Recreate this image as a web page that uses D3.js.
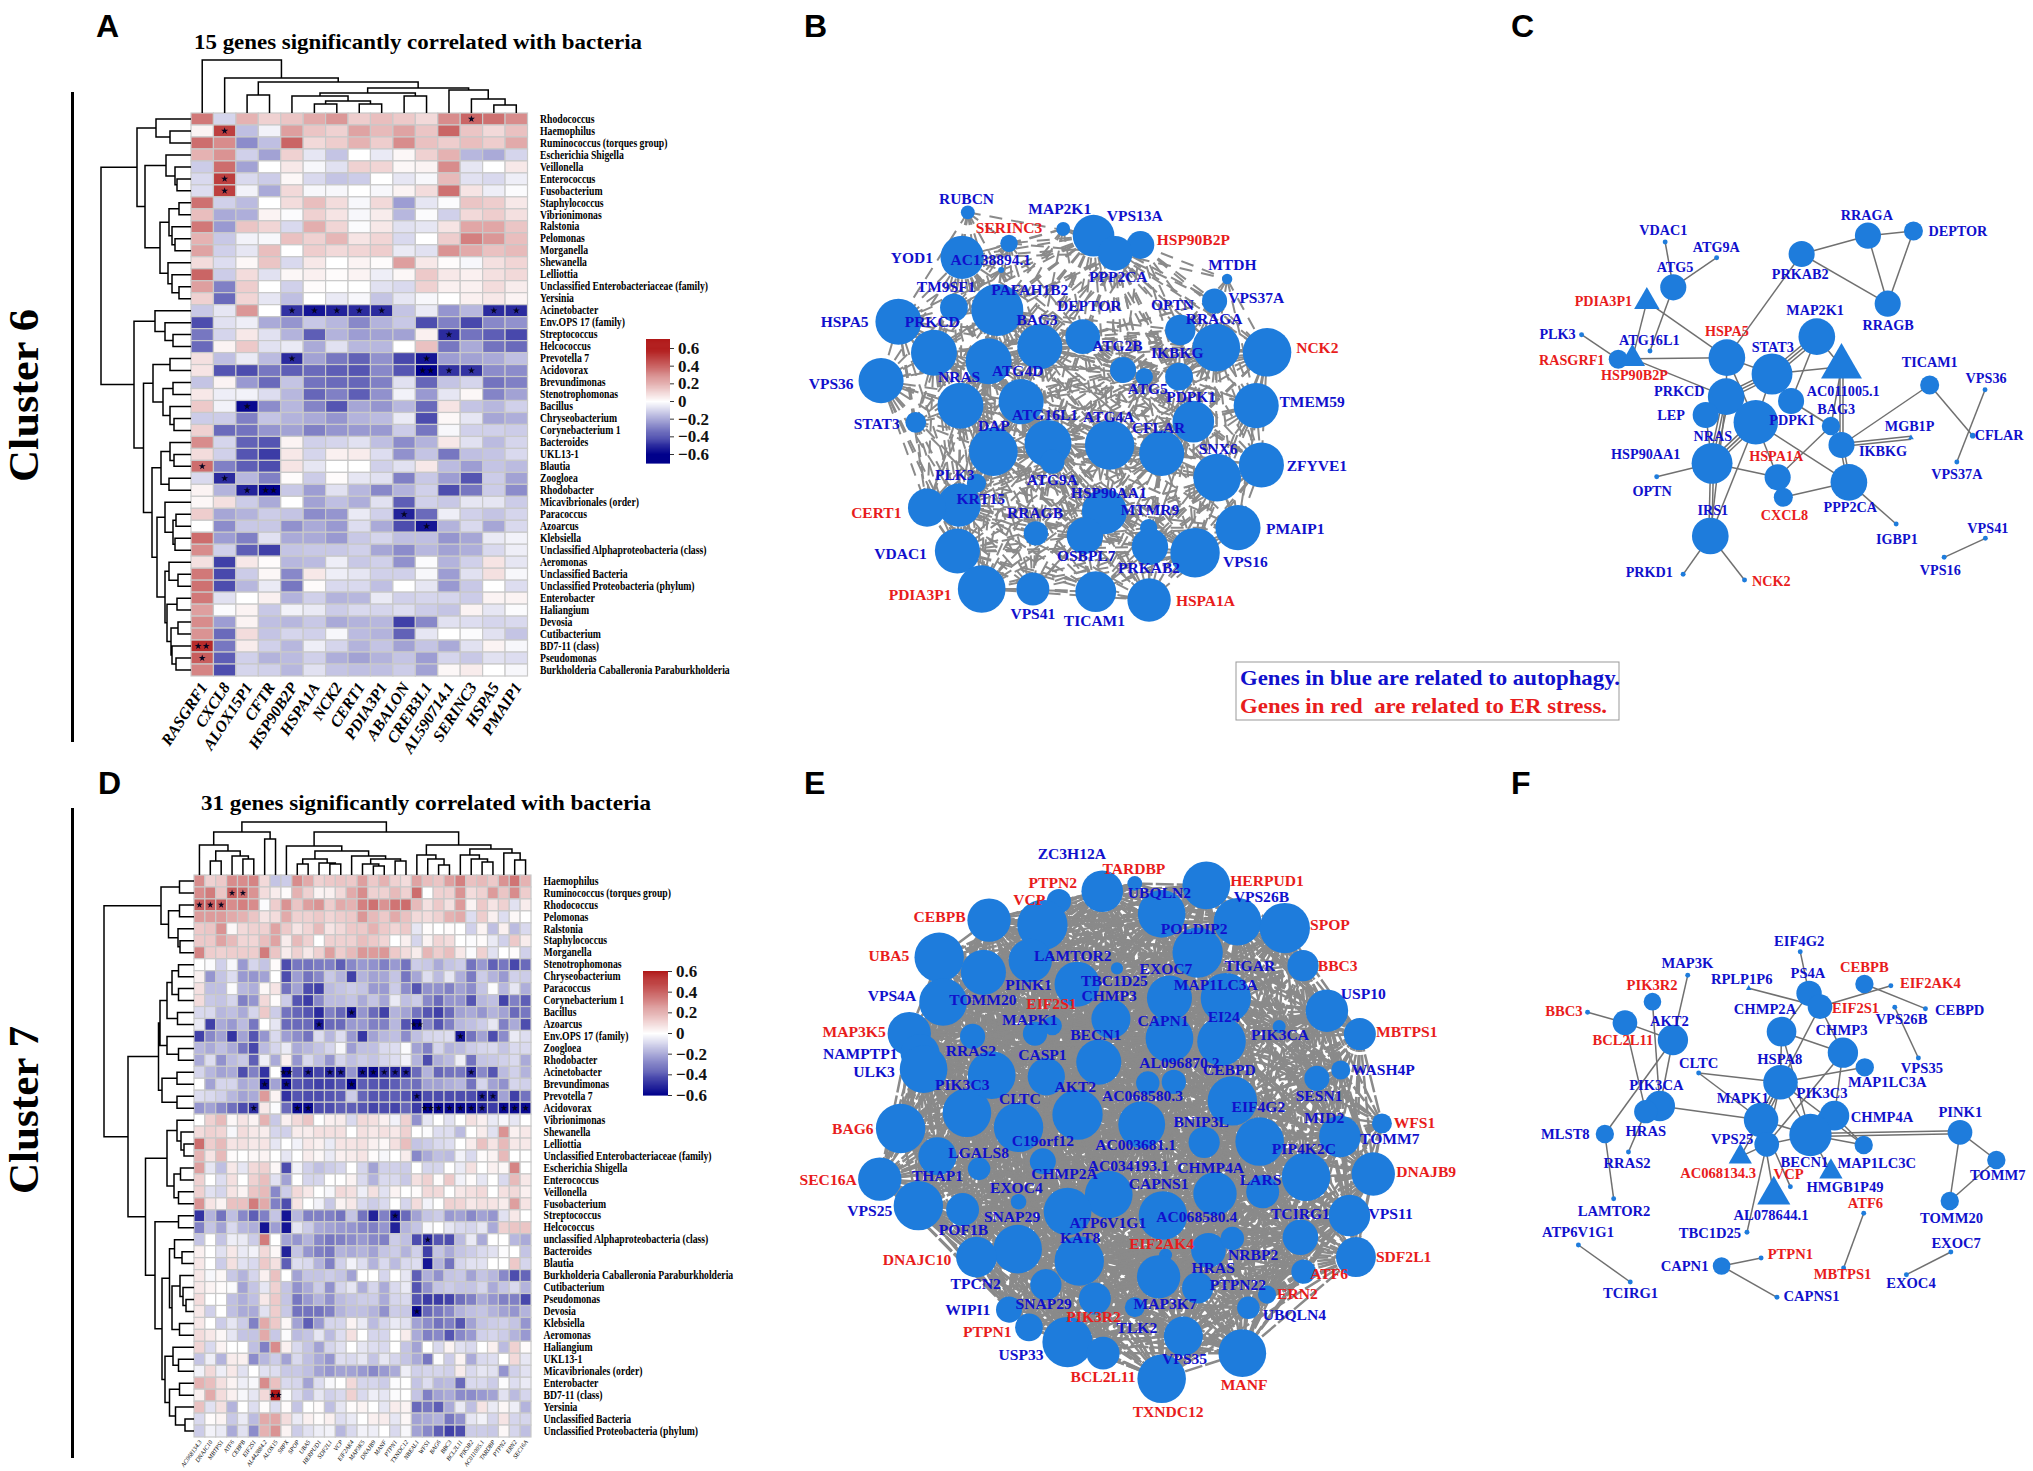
<!DOCTYPE html>
<html><head><meta charset="utf-8">
<script src="https://cdn.jsdelivr.net/npm/d3@7"></script>
<style>html,body{margin:0;background:#fff}svg{display:block}text{font-family:"Liberation Serif",serif}</style>
</head><body><svg id="c" width="2033" height="1471"></svg>
<script>
const colsA=["RASGRF1","CXCL8","ALOX15P1","CFTR","HSP90B2P","HSPA1A","NCK2","CERT1","PDIA3P1","ABALON","CREB3L1","AL590714.1","SERINC3","HSPA5","PMAIP1"];
const rowsA=["Rhodococcus","Haemophilus","Ruminococcus (torques group)","Escherichia Shigella","Veillonella","Enterococcus","Fusobacterium","Staphylococcus","Vibrionimonas","Ralstonia","Pelomonas","Morganella","Shewanella","Lelliottia","Unclassified Enterobacteriaceae (family)","Yersinia","Acinetobacter","Env.OPS 17 (family)","Streptococcus","Helcococcus","Prevotella 7","Acidovorax","Brevundimonas","Stenotrophomonas","Bacillus","Chryseobacterium","Corynebacterium 1","Bacteroides","UKL13-1","Blautia","Zoogloea","Rhodobacter","Micavibrionales (order)","Paracoccus","Azoarcus","Klebsiella","Unclassified Alphaproteobacteria (class)","Aeromonas","Unclassified Bacteria","Unclassified Proteobacteria (phylum)","Enterobacter","Haliangium","Devosia","Cutibacterium","BD7-11 (class)","Pseudomonas","Burkholderia Caballeronia Paraburkholderia"];
const valuesA=[
[35,-10,20,12,15,22,27,13,17,14,10,30,40,37,30],[3,50,-15,-3,25,15,12,24,18,24,15,40,15,10,16],[38,30,-27,-15,40,10,13,20,13,30,16,13,17,13,22],[20,28,-11,-22,12,-6,-14,0,-5,2,12,20,-17,-20,-10],[-12,38,-22,0,6,-2,-7,12,11,2,3,30,-6,0,6],[-9,50,-9,-12,2,-9,-14,-12,0,-6,-2,18,-7,-9,-4],[-8,50,-3,-20,10,-2,-2,0,-2,3,9,37,7,-4,-1],[37,-11,-16,0,9,17,9,-2,10,-23,-6,-1,15,13,6],[17,-20,-19,3,-1,12,7,-2,5,-17,-1,-11,10,13,8],[35,-24,15,11,-9,21,11,-1,6,-7,-6,7,23,23,15],[20,-13,-3,-2,16,12,19,7,11,-9,0,13,33,27,17],[24,-11,-6,17,0,13,10,11,13,-5,-7,28,22,16,18],[9,-8,2,15,-9,6,0,3,1,25,6,1,-2,8,11],[40,-12,9,-7,2,4,1,3,-4,2,14,6,4,8,10],[25,-30,13,0,-11,1,0,0,-7,-9,12,4,4,9,5],[12,-35,11,-6,-15,0,-5,-2,-14,-6,-2,0,4,6,3],
[-13,-6,27,0,-48,-55,-52,-50,-50,-14,-5,-25,-17,-50,-50],[-42,-7,-4,-20,-25,-13,-17,-28,-18,-13,-42,-30,-43,-28,-26],[-32,-10,6,-7,-18,-38,-18,-23,-22,-22,4,-50,-33,-38,-43],[-35,3,14,-7,-5,-20,-7,-17,-17,0,16,-32,-20,-33,-35],[8,-15,-5,-16,-50,-22,-32,-37,-26,-43,-55,-23,-22,-20,-15],[7,-40,-42,-32,-38,-35,-38,-40,-28,-40,-60,-48,-48,-27,-27],[-14,3,-24,-35,-14,-33,-35,-36,-30,-7,-36,-14,-10,-33,-30],[6,-4,-3,-8,-17,-36,-30,-38,-26,-3,-24,-6,2,-29,-22],[14,-3,-58,-27,-17,-29,-40,-21,-25,-17,-35,7,-14,-17,-11],[-12,-12,-30,-14,-18,-20,-25,-18,-16,-5,-42,2,-6,-21,-19],[12,-35,-33,-25,-22,-30,-25,-24,-24,-12,-32,-2,-11,-11,-12],[30,-10,-37,-40,3,-11,-10,-7,-15,-27,-18,6,-7,-16,-10],[9,-11,-40,-46,6,-10,4,5,-8,-26,-14,-32,-15,-14,-9],[38,-30,-38,-42,7,-6,0,0,-11,-7,6,-16,-23,-14,-16],[-9,-50,-17,-30,1,-12,1,-6,-7,-30,-13,-23,-40,-12,-22],[3,-18,-52,-60,-13,-23,-7,-17,-28,-18,-11,-42,-32,-12,-27],[2,8,-12,-20,0,-22,-15,-19,-7,-38,-11,-13,-6,-6,-12],[13,-21,-18,-12,-14,-27,-25,-5,-11,-52,-35,-4,-11,-14,-10],[0,-27,-13,-13,-26,-20,-24,-8,-20,-42,-55,-18,-9,-21,-9],[38,-23,-30,-7,-20,-20,-24,-13,-10,-15,-15,-25,-21,-5,-3],[30,-11,-38,-45,-14,-13,-13,-11,-21,-27,-17,-22,-19,-9,-4],[8,-45,6,1,-17,-16,-4,-13,-11,-26,-1,-18,-11,7,-6],[35,-43,-12,2,-28,6,-4,-6,-11,-11,-2,-23,-7,8,-2],[37,-42,-17,-5,-32,1,-9,-9,-15,0,-6,-24,-13,0,-8],[35,-7,0,4,-18,-11,-18,-17,-5,-11,-10,-10,-12,3,3],[25,-1,3,-13,-3,-5,-12,-9,-10,-8,-12,-14,3,-6,-1],[30,-23,3,-15,-17,-13,-20,-18,-17,-45,-28,-7,-8,-10,-9],[28,-35,9,-14,-10,-11,-2,-16,-18,-37,-6,0,-1,-7,-14],[55,-32,5,-11,-17,-4,-10,-18,-14,-22,-14,-20,-7,3,-2],[42,-38,-11,-18,-16,-11,-19,-22,-18,-14,-23,-10,-13,-7,-8],[32,-42,-10,-11,-17,-7,-14,-15,-15,-12,-22,2,5,0,-2]];
const starsA=[[0,12,1],[1,1,1],[5,1,1],[6,1,1],[16,4,1],[16,5,1],[16,6,1],[16,7,1],[16,8,1],[16,13,1],[16,14,1],[18,11,1],[20,4,1],[20,10,1],[21,10,2],[21,11,1],[21,12,1],[24,2,1],[29,0,1],[30,1,1],[31,2,1],[31,3,2],[33,9,1],[34,10,1],[44,0,2],[45,0,1]];
const treeRowA=[90,[54,[35,0,[21,1,2]],[46,[25,3,[16,4,[14,5,6]]],[31,[22,[12,7,8],[19,9,[16,10,11]]],[23,12,[19,13,[12,14,15]]]]]],[57,[36,16,[26,17,[18,18,19]]],[47.5,[38,[21,20,21],[28,[18,22,23],[21,24,[17,25,26]]]],[39,[30,[21,27,[17,28,29]],[22,30,31]],[34,[26,32,[18,[15,33,34],[16,35,36]]],[26,[22,37,[13,38,39]],[24,[14,40,41],[20,[13,42,43],[19,44,[15,45,46]]]]]]]]]];
const treeColA=[53,0,[35,1,[31,[18,2,3],[25,[20,[17,4,[12,[9,5,6],[9,7,8]]],[17,9,10]],[23,11,[14,12,[8,13,14]]]]]]];

const colsD=["AC068134.3","DNAJC10","MBTPS1","ATF6","CEBPB","EIF2S1","AL442884.2","ALOX15","SRPX","SPOP","UBA5","HERPUD1","SDF2L1","VCP","EIF2AK4","MAP3K5","DNAJB9","MANF","PTPN1","TXNDC12","NBEAL1","WFS1","BAG6","BBC3","BCL2L11","PIK3R2","AC011005.1","TARDBP","PTPN2","ERN2","SEC16A"];
const rowsD=["Haemophilus","Ruminococcus (torques group)","Rhodococcus","Pelomonas","Ralstonia","Staphylococcus","Morganella","Stenotrophomonas","Chryseobacterium","Paracoccus","Corynebacterium 1","Bacillus","Azoarcus","Env.OPS 17 (family)","Zoogloea","Rhodobacter","Acinetobacter","Brevundimonas","Prevotella 7","Acidovorax","Vibrionimonas","Shewanella","Lelliottia","Unclassified Enterobacteriaceae (family)","Escherichia Shigella","Enterococcus","Veillonella","Fusobacterium","Streptococcus","Helcococcus","unclassified Alphaproteobacteria (class)","Bacteroides","Blautia","Burkholderia Caballeronia Paraburkholderia","Cutibacterium","Pseudomonas","Devosia","Klebsiella","Aeromonas","Haliangium","UKL13-1","Micavibrionales (order)","Enterobacter","BD7-11 (class)","Yersinia","Unclassified Bacteria","Unclassified Proteobacteria (phylum)"];
const valuesD=[
[30,12,14,30,30,32,10,-14,-12,30,22,12,14,15,14,25,14,20,12,9,24,17,15,25,33,16,18,14,28,36,20],
[30,34,15,42,38,28,9,5,1,20,12,3,4,10,22,30,12,12,18,12,38,0,12,12,28,9,12,26,15,30,13],
[42,42,42,30,33,30,-1,13,28,15,25,28,13,22,20,33,37,28,36,38,18,8,14,8,26,3,14,7,12,-7,5],
[26,26,26,22,20,15,7,9,22,12,12,14,11,13,14,27,18,14,22,16,10,9,12,20,22,-8,13,4,-8,2,0],
[14,15,28,2,10,12,12,24,14,7,11,18,7,10,14,14,20,14,11,14,-6,1,0,1,0,-11,3,-15,4,-16,-9],
[14,14,24,18,11,11,17,24,5,18,12,0,12,12,12,17,14,11,0,4,-10,3,11,9,0,-1,1,-5,-11,14,5],
[32,13,12,13,13,13,34,15,5,12,6,12,25,13,18,27,26,27,14,9,5,19,13,17,6,-1,12,-7,0,1,-11],
[0,-1,-11,-2,-24,-10,-14,1,-42,-32,-33,-31,-30,-38,-28,-24,-26,-30,-24,-33,-12,-13,-20,-14,-12,-33,-24,-37,-32,-43,-35],
[4,-25,-14,-8,-24,-25,-22,0,-42,-23,-33,-28,-13,-18,-45,-18,-22,-21,-14,-32,-21,-8,-16,-6,-19,-31,-12,-18,-24,-11,-12],
[8,-15,-15,-1,-17,-19,2,7,-33,-22,-42,-45,-16,-14,-12,-14,-24,-24,-12,-27,-40,-26,-26,-30,-22,-27,-14,-1,-17,-6,-19],
[9,-13,-14,-10,-30,-25,10,1,-12,-40,-46,-28,-16,-16,-14,-20,-14,-21,-5,-15,-12,-28,-35,-25,-25,-40,-17,-15,-44,-30,-38],
[-9,-9,-17,-15,-20,-10,14,-12,-33,-36,-40,-50,-30,-36,-55,-25,-35,-45,-18,-22,-33,-40,-45,-35,-22,-20,-25,-18,-22,-35,-32],
[-5,-45,-20,-24,-16,-32,0,-6,-35,-35,-35,-55,-35,-35,-24,-24,-30,-30,-17,-40,-60,-28,-40,-30,-17,-15,-12,-6,-30,-20,-42],
[-45,-28,-22,-48,-22,-40,-25,-9,-23,-27,-33,-8,-17,-8,-24,-47,-22,-17,-15,-27,-15,-10,-9,-8,-55,-33,-22,-42,-27,-5,-8],
[-17,-20,-15,-20,-32,-43,-16,-10,-5,-20,-17,-14,-10,-2,-23,-15,-15,-9,-8,-1,-22,-30,-10,-18,-16,-12,-10,-9,-14,-9,-9],
[-20,-8,-26,-16,-13,-38,-4,-20,4,-25,-9,-15,-25,-10,-15,-12,-14,-10,-8,-3,-18,-42,-19,-16,-4,-33,-14,-13,-11,-9,-20],
[-10,-17,-22,-20,-42,-30,-48,0,-60,-38,-52,-44,-52,-52,-25,-55,-58,-50,-52,-52,-35,-18,-36,-33,-32,-50,-28,-40,-16,-11,-18],
[0,-22,-10,-10,-20,-18,-58,-22,-58,-40,-42,-45,-44,-40,-60,-38,-40,-42,-38,-33,-34,-22,-22,-19,-17,-33,-10,-22,-26,-10,-11],
[-8,-9,-11,-17,-22,-20,26,3,-48,-40,-42,-42,-40,-38,-12,-36,-40,-40,-38,-40,-52,-42,-42,-42,-42,-42,-52,-52,-22,-45,-33],
[-25,-22,-28,-34,-42,-50,6,-1,-35,-58,-58,-42,-42,-38,-38,-40,-44,-42,-44,-36,-46,-60,-58,-58,-58,-58,-52,-46,-58,-58,-58],
[0,12,18,2,7,3,20,-13,4,10,15,0,4,5,-9,10,8,4,-3,12,-26,-6,0,-7,0,8,4,-5,-2,-6,0],
[9,12,11,-2,9,6,5,-10,-11,5,5,8,8,8,0,8,6,8,6,12,0,-1,-8,-8,-16,0,5,-7,28,4,6],
[38,13,18,7,8,6,7,-6,0,-3,6,4,-5,7,7,8,4,2,8,17,-14,-12,-9,-8,0,5,16,7,18,6,6],
[20,7,18,1,0,2,3,0,-6,0,5,2,-5,4,5,7,1,-2,0,5,-28,-20,-15,-16,-3,-9,1,3,18,0,0],
[25,-6,-15,6,-6,10,12,2,-42,-3,-11,-15,-12,-10,0,-10,-22,-11,-11,-12,0,-10,-10,0,-5,8,0,4,2,32,0],
[12,0,-8,8,0,12,17,-7,-22,0,-10,-10,0,0,3,-9,-18,-9,-9,-13,8,12,1,14,-3,1,-6,0,-9,18,6],
[12,-7,-10,7,3,15,18,-28,-12,10,6,0,-2,10,8,-4,8,-7,3,0,1,10,10,0,6,8,10,0,8,10,4],
[28,7,3,16,16,34,22,-30,-42,7,0,-3,-13,3,6,-9,-12,-9,0,-10,9,-3,0,12,11,6,8,7,5,25,7],
[-48,-18,-33,-15,-28,-38,-30,-14,-55,-17,-30,-30,-30,-33,-14,-33,-52,-30,-56,-35,-22,-14,-12,-24,-22,-28,-22,-25,-7,6,0],
[-30,-14,-22,-9,-17,-19,-55,-23,-55,-6,-12,-20,-22,-24,-25,-28,-30,-25,-52,-18,-14,-2,0,-6,-9,-10,-6,-20,12,15,15],
[-14,0,-14,-4,-5,-12,34,0,-22,-25,-18,-28,-32,-30,-27,-24,-28,-30,-12,-15,-42,-50,-40,-42,-16,-5,-20,0,0,-17,-20],
[4,0,-7,6,-5,-3,10,2,-52,-14,-25,-30,-32,-18,-20,-18,-22,-14,-12,-18,-11,-45,-14,-20,-14,-12,-9,-7,-1,0,-14],
[6,0,-12,8,-7,-9,14,8,-38,-8,-9,-18,-30,-11,-3,-8,-18,-9,-16,-9,-8,-55,-18,-33,-10,-7,-7,0,0,14,-10],
[6,-2,2,-13,-18,-10,4,16,0,-22,-14,-14,-12,-14,-22,0,0,-10,0,-6,-38,-19,-26,-14,-13,-22,-14,-17,-28,-42,-36],
[6,3,1,-1,-22,-14,-6,12,-14,-26,-20,-12,-26,-10,-6,-19,-10,-20,-9,-5,-40,-26,-14,-12,-14,-14,-10,-20,-14,-9,-18],
[9,0,0,-15,-19,-15,6,14,-14,-32,-24,-18,-26,-16,-14,-12,-12,-20,-10,-9,-40,-46,-46,-44,-34,-30,-20,-25,-30,-30,-43],
[6,-11,0,-15,-20,-20,-7,13,-13,-33,-33,-33,-30,-18,-15,-15,-18,-26,-12,-13,-58,-36,-32,-28,-18,-15,-14,-18,-22,-25,-18],
[6,0,-12,-6,-12,-30,22,14,2,-22,-38,-24,-10,-10,3,-5,-16,-10,-5,-7,-22,-27,-33,-30,-40,-22,-14,-12,-11,-14,-25],
[9,6,2,-6,-14,-14,22,-13,-1,-16,-14,-6,-16,-8,8,0,-10,-10,0,5,-20,-30,-28,-40,-28,-24,-11,-10,-12,-18,-24],
[11,-9,3,0,0,-15,-30,30,4,-9,-14,-22,-10,-7,0,-6,-8,-9,0,-14,-22,0,-9,3,-7,-9,0,4,-16,12,1],
[-14,-4,-18,5,4,-27,-17,-12,-22,-9,-15,-20,-25,-8,-9,-6,-14,-6,-10,-14,-20,-32,-1,-12,3,-20,-9,-8,0,10,-6],
[-3,10,-4,6,-7,0,-7,-8,-13,-13,-15,-22,-25,-22,-22,-24,-28,-24,-20,-4,-11,-10,-10,-11,5,-9,-6,-7,-25,-11,-7],
[20,17,8,3,-4,-2,30,16,-9,-10,-22,-8,-2,0,10,-10,-10,-12,-1,0,-14,-8,-17,-16,-35,-9,-9,-12,-1,-8,-5],
[4,22,9,4,-2,-6,10,60,-1,-9,-15,-6,-11,-9,12,-9,-4,-6,-1,0,-14,-30,-22,-20,-27,-27,-24,-22,-7,-16,-10],
[16,-7,8,-18,0,-8,1,-8,1,-14,0,1,-15,-6,1,3,0,-6,5,3,-35,-32,-38,-20,-5,-15,7,-5,2,-4,-18],
[-9,1,3,-13,-5,-16,22,23,9,-5,4,1,4,-8,-5,0,4,5,-6,2,-22,-20,-18,-32,-26,-6,-3,-10,7,-10,-10],
[-12,-3,-5,-20,-7,-27,20,28,3,-12,-7,-4,-3,-17,-9,-3,-4,0,-9,-2,-22,-28,-38,-45,-42,-12,-12,-13,2,-10,-15]];
const starsD=[[1,3,1],[1,4,1],[2,0,1],[2,1,1],[2,2,1],[11,14,1],[12,11,1],[12,20,2],[13,24,1],[16,8,2],[16,10,1],[16,12,1],[16,13,1],[16,15,1],[16,16,1],[16,17,1],[16,18,1],[16,19,1],[16,25,1],[17,6,1],[17,8,1],[17,14,1],[18,20,1],[18,26,1],[18,27,1],[19,5,1],[19,9,1],[19,10,1],[19,21,2],[19,22,1],[19,23,1],[19,24,1],[19,25,1],[19,26,1],[19,28,1],[19,29,1],[19,30,1],[28,18,1],[30,21,1],[36,20,1],[43,7,2]];
const treeRowD=[90,[33,[14.5,0,1],[25.5,[14.5,2,3],[16,4,[14,5,6]]]],[66,[35.5,[34,[27,[22,[15.5,7,8],[15.5,9,10]],[16.5,11,12]],[27,13,[15.5,14,15]]],[32,[17,16,17],[17,18,19]]],[48.5,[27,[17,20,[13,21,[10,22,23]]],[20,[13.5,24,25],[15.5,26,27]]],[39,[15.5,28,29],[32,[24.5,[19.5,30,[12,31,32]],[22,[14,33,[11,34,[8,35,36]]],[14.5,37,38]]],[29,[21,39,[15.5,40,41]],[24.5,[14.5,42,43],[18.5,44,[9,45,46]]]]]]]]];
const treeColD=[53,[43,[30,0,[24,[14,1,2],[19,3,[16,4,5]]]],[36,6,7]],[43,[29,8,[24,[16,[11,9,10],[12,11,[11,12,13]]],[19,14,[16,[11,15,[9,16,17]],[14,18,19]]]]],[30,[20,20,[16,21,[10,22,23]]],[26,[20,24,[16,25,[13,26,27]]],[22,28,[15,29,30]]]]]];
const colorTicks=[0.6,0.4,0.2,0,-0.2,-0.4,-0.6];

// Network tables: [gene, label x, label y, node x, node y, node size], in sheet units of each panel.
const netB=[["RUBCN",407,85,410,127,16],["MAP2K1",622,115,630,177,16],["VPS13A",795,137,700,197,48],["SERINC3",505,173,505,220,20],["HSP90B2P",930,210,808,225,32],["PPP2CA",757,321,750,250,40],["YOD1",281,263,397,262,50],["AC138894.1",463,268,487,300,7],["MTDH",1020,283,1008,327,12],["VPS37A",1075,384,979,393,29],["TM9SF1",360,349,378,413,32],["PAFAH1B2",553,358,478,420,60],["DEPTOR",690,407,675,500,40],["OPTN",882,404,900,480,35],["HSPA5",126,456,250,455,53],["PRKCD",328,456,332,548,53],["BAG3",570,450,576,530,52],["RRAGA",978,445,983,533,55],["NCK2",1216,533,1100,547,56],["ATG2B",755,527,768,600,30],["IKBKG",893,549,897,620,32],["ATG5",825,655,817,620,20],["ATG4D",525,603,458,574,53],["NRAS",390,620,393,707,53],["VPS36",95,640,210,632,52],["TMEM59",1204,696,1075,707,52],["PDPK1",925,680,930,755,48],["ATG16L1",588,735,533,695,52],["ATG4A",735,740,737,825,57],["STAT3",200,760,290,757,24],["DAP",470,767,469,845,56],["CFLAR",850,772,857,850,52],["SNX6",987,835,985,923,55],["ZFYVE1",1215,888,1087,885,52],["ATG9A",605,930,595,820,54],["",0,0,605,875,28],["PLK3",380,915,430,940,22],["KRT15",440,985,390,1005,50],["CERT1",199,1027,316,1013,44],["HSP90AA1",735,967,725,1025,52],["RRAGB",565,1028,567,1090,28],["MTMR9",830,1020,827,1073,20],["OSBPL7",683,1158,680,1097,42],["PRKAB2",828,1192,830,1130,42],["PMAIP1",1165,1075,1033,1073,52],["VPS16",1050,1175,934,1148,57],["VDAC1",255,1152,386,1143,52],["PDIA3P1",300,1275,442,1257,55],["VPS41",560,1330,560,1257,38],["TICAM1",702,1353,705,1265,47],["HSPA1A",958,1292,828,1290,50]];
const redB=["SERINC3","HSP90B2P","NCK2","CERT1","PDIA3P1","HSPA1A"];
const netC=[["VDAC1",520,181,525,216,7],["ATG9A",670,232,671,263,7],["ATG5",553,293,548,352,37],["RRAGA",1097,136,1100,197,37],["DEPTOR",1355,185,1229,183,27],["PRKAB2",908,314,912,252,37],["RRAGB",1157,466,1156,401,37],["PDIA3P1",350,393,473,395,36],["MAP2K1",950,422,955,500,52],["PLK3",220,493,288,494,7],["HSPA5",700,484,700,563,52],["ATG16L1",480,511,482,543,7],["STAT3",830,531,828,612,58],["RASGRF1",260,571,392,568,27],["HSP90B2P",438,617,432,566,36],["AC011005.1",1030,665,1025,590,58],["TICAM1",1275,578,1275,645,27],["VPS36",1435,625,1432,659,7],["PRKCD",565,663,698,680,52],["LEP",542,735,640,735,37],["PDPK1",885,750,882,693,37],["BAG3",1010,717,995,768,26],["NRAS",660,800,782,757,63],["MGB1P",1218,768,1222,803,8],["IKBKG",1143,843,1025,825,37],["CFLAR",1472,797,1397,797,8],["VPS37A",1352,913,1352,876,7],["HSP90AA1",470,853,658,880,58],["OPTN",488,965,501,920,7],["HSPA1A",840,860,844,922,37],["CXCL8",863,1037,860,982,27],["PPP2CA",1050,1013,1046,937,52],["IRS1",660,1020,653,1098,52],["IGBP1",1182,1107,1180,1062,7],["VPS41",1440,1075,1433,1105,7],["VPS16",1305,1200,1316,1162,7],["PRKD1",480,1208,576,1213,7],["NCK2",826,1233,750,1230,7]];
const redC=["PDIA3P1","HSPA5","RASGRF1","HSP90B2P","HSPA1A","CXCL8","NCK2"];
const triC=["PDIA3P1","HSP90B2P","AC011005.1","MGB1P"];
const edgesC=[["VDAC1","ATG5"],["ATG9A","ATG5"],["ATG5","ATG16L1"],["PDIA3P1","HSP90B2P"],["PDIA3P1","HSPA5"],["PLK3","RASGRF1"],["HSP90B2P","HSPA5"],["HSP90B2P","PRKCD"],["RASGRF1","HSP90B2P"],["PRKAB2","RRAGA"],["RRAGA","DEPTOR"],["RRAGA","RRAGB"],["DEPTOR","RRAGB"],["PRKAB2","RRAGB"],["PRKAB2","HSPA5"],["MAP2K1","STAT3",3],["MAP2K1","AC011005.1"],["MAP2K1","PDPK1"],["STAT3","AC011005.1"],["HSPA5","STAT3"],["HSPA5","PRKCD"],["HSPA5","NRAS"],["STAT3","PRKCD",3],["STAT3","NRAS"],["PRKCD","NRAS"],["PRKCD","HSP90AA1",3],["LEP","HSP90AA1"],["NRAS","HSP90AA1",3],["NRAS","IRS1"],["PRKCD","IRS1"],["HSP90AA1","IRS1",2],["IRS1","PRKD1"],["IRS1","NCK2"],["HSP90AA1","OPTN"],["HSP90AA1","HSPA1A"],["NRAS","PPP2CA"],["PDPK1","BAG3"],["HSPA1A","BAG3"],["AC011005.1","IKBKG",2],["AC011005.1","BAG3"],["IKBKG","PPP2CA",2],["IKBKG","TICAM1"],["IKBKG","MGB1P",2],["TICAM1","CFLAR"],["VPS36","VPS37A"],["CXCL8","PPP2CA"],["HSPA1A","CXCL8"],["PPP2CA","IGBP1"],["VPS41","VPS16"],["NRAS","HSPA1A"],["STAT3","PDPK1"]];
const netE=[["ZC3H12A",650,60,720,155,48],["TARDBP",793,97,795,135,17],["PTPN2",606,133,620,180,28],["HERPUD1",1100,127,960,140,55],["VCP",552,176,582,240,58],["UBQLN2",852,158,857,212,55],["VPS26B",1087,168,1032,232,55],["CEBPB",345,218,459,228,50],["SPOP",1245,240,1141,248,58],["POLDIP2",932,250,940,310,58],["UBA5",228,317,344,322,57],["LAMTOR2",652,317,554,330,50],["BBC3",1263,342,1183,343,36],["EXOC7",867,350,754,350,14],["TIGAR",1060,343,0,0,0],["PINK1",550,392,662,390,52],["TBC1D25",748,382,875,425,52],["MAP1LC3A",982,390,1005,425,58],["USP10",1322,415,1238,457,49],["VPS4A",235,420,353,435,55],["TOMM20",445,428,446,360,52],["CHMP3",736,420,740,478,45],["EIF2S1",603,440,605,495,22],["MAPK1",553,480,565,515,28],["CAPN1",860,482,875,527,55],["EI24",1000,473,995,535,56],["MAP3K5",148,510,275,515,50],["MBTPS1",1422,510,1314,516,37],["PIK3CA",1130,518,1128,497,15],["BECN1",705,517,712,587,52],["RRAS2",417,558,421,522,29],["NAMPTP1",162,565,300,565,45],["CASP1",582,568,591,624,43],["ULK3",194,610,308,605,55],["WASH4P",1368,607,1270,607,22],["CEBPD",1013,607,1020,685,57],["AL096870.2",898,588,885,637,28],["SESN1",1220,673,1215,628,29],["AKT2",658,650,663,720,58],["CLTC",530,680,527,752,57],["AC068580.3",813,672,811,745,54],["PIK3C3",397,643,408,715,56],["",0,0,465,620,55],["",0,0,825,640,27],["EIF4G2",1080,700,1083,788,56],["MID2",1232,727,0,0,0],["WFS1",1440,741,1365,742,23],["BNIP3L",948,738,955,790,36],["TOMM7",1383,780,1268,775,48],["BAG6",145,755,255,755,57],["C19orf12",583,786,583,838,30],["AC003681.1",797,795,0,0,0],["LGALS8",435,817,436,857,26],["THAP1",340,875,340,825,44],["PIP4K2C",1185,807,1190,877,56],["DNAJB9",1467,865,1345,870,50],["SEC16A",88,885,207,883,50],["CHMP2A",633,870,735,922,55],["AC034193.1",780,850,0,0,0],["CHMP4A",970,855,980,920,50],["CAPNS1",850,895,860,975,56],["EXOC4",522,905,527,940,18],["LARS",1085,885,1090,915,38],["VPS25",184,962,296,950,57],["TCIRG1",1177,970,1177,1030,41],["VPS11",1385,970,1290,975,48],["SNAP29",512,978,525,1060,56],["AC068580.4",938,978,965,1063,40],["POF1B",400,1010,398,960,38],["ATP6V1G1",733,993,640,965,55],["KAT8",669,1030,667,1090,57],["EIF2AK4",857,1047,866,1075,15],["NRBP2",1068,1073,1020,1033,27],["DNAJC10",293,1087,430,1080,47],["SDF2L1",1415,1080,1305,1080,46],["ATF6",1243,1122,1184,1117,28],["HRAS",976,1107,850,1130,50],["PTPN22",1033,1150,940,1158,36],["ERN2",1170,1172,1100,1175,21],["TPCN2",428,1147,590,1150,36],["SNAP29",585,1197,703,1185,37],["MAP3K7",865,1197,795,1207,23],["WIPI1",410,1213,505,1213,30],["UBQLN4",1163,1225,1057,1208,26],["PIK3R2",700,1230,0,0,0],["TLK2",800,1258,0,0,0],["PTPN1",455,1270,551,1258,32],["USP33",533,1328,640,1295,58],["VPS35",910,1338,907,1280,45],["BCL2L11",722,1382,722,1323,38],["MANF",1047,1403,1043,1323,55],["TXNDC12",872,1470,857,1388,56]];
const redE=["TARDBP","PTPN2","HERPUD1","VCP","CEBPB","SPOP","UBA5","BBC3","EIF2S1","MAP3K5","MBTPS1","WFS1","BAG6","DNAJB9","SEC16A","DNAJC10","EIF2AK4","SDF2L1","ATF6","ERN2","PIK3R2","PTPN1","BCL2L11","MANF","TXNDC12"];
const netF=[["EIF4G2",905,122,908,155,7],["MAP3K",588,188,589,226,7],["PS4A",930,220,933,280,36],["CEBPB",1090,200,1090,252,26],["EIF2AK4",1277,250,1165,257,7],["RPLP1P6",742,238,762,265,8],["PIK3R2",488,255,489,305,25],["BBC3",238,333,305,337,7],["EIF2S1",1065,325,964,320,35],["CEBPD",1360,330,1263,326,7],["VPS26B",1195,358,1176,322,7],["CHMP2A",808,328,855,395,42],["AKT2",537,362,547,420,43],["BCL2L11",405,420,411,368,35],["CHMP3",1025,390,1029,458,43],["MAP1LC3A",1155,547,1091,502,26],["VPS35",1253,505,1243,474,7],["CLTC",620,488,620,519,7],["HSPA8",850,478,852,547,49],["PIK3CA",500,556,510,618,43],["PIK3C3",970,580,985,660,30],["MAPK1",745,595,797,660,49],["HRAS",470,692,470,635,33],["CHMP4A",1140,650,1005,647,42],["PINK1",1362,635,1361,697,35],["MLST8",242,702,354,702,26],["VPS25",715,717,813,733,35],["RRAS2",417,788,421,756,7],["AC068134.3",675,820,738,770,33],["BECN1",920,787,937,705,60],["MAP1LC3C",1125,788,1088,735,26],["VCP",875,822,880,860,7],["HMGB1P49",1035,860,995,815,33],["TOMM7",1468,825,1464,780,26],["LAMTOR2",380,932,379,896,7],["AL078644.1",825,945,833,885,47],["ATF6",1093,910,1088,940,7],["TOMM20",1337,955,1332,903,26],["ATP6V1G1",278,997,279,1035,7],["TBC1D25",652,998,757,997,7],["EXOC7",1350,1030,1335,1056,7],["CAPN1",580,1098,685,1098,25],["PTPN1",880,1063,797,1074,7],["MBTPS1",1028,1123,1031,1104,7],["EXOC4",1222,1150,1209,1124,7],["TCIRG1",427,1180,426,1146,7],["CAPNS1",940,1188,842,1192,7]];
const redF=["CEBPB","EIF2AK4","PIK3R2","BBC3","EIF2S1","BCL2L11","AC068134.3","VCP","ATF6","PTPN1","MBTPS1"];
const triF=["RPLP1P6","AC068134.3","HMGB1P49","AL078644.1"];
const edgesF=[["EIF4G2","PS4A"],["PS4A","CHMP2A"],["PS4A","EIF2S1"],["RPLP1P6","EIF2S1"],["EIF2S1","EIF2AK4"],["CEBPB","CEBPD"],["VPS26B","VPS35"],["MAP3K","AKT2"],["PIK3R2","PIK3CA"],["BBC3","BCL2L11"],["BCL2L11","AKT2"],["BCL2L11","HRAS"],["AKT2","PIK3CA"],["AKT2","MLST8"],["CLTC","HSPA8"],["CLTC","MAPK1"],["CHMP2A","HSPA8"],["CHMP2A","CHMP3"],["CHMP2A","BECN1"],["CHMP3","EIF2S1"],["CHMP3","CHMP4A"],["CHMP3","VPS25"],["HSPA8","MAP1LC3A"],["HSPA8","MAPK1",3],["HSPA8","VPS25"],["HSPA8","BECN1"],["HSPA8","MAP1LC3C"],["EIF2S1","MAPK1"],["PIK3CA","MAPK1"],["MAPK1","BECN1"],["VPS25","BECN1"],["VPS25","AC068134.3"],["MAPK1","AC068134.3"],["MAPK1","AL078644.1"],["HRAS","RRAS2"],["BECN1","PINK1",2],["CHMP4A","MAP1LC3C"],["BECN1","MAP1LC3C"],["BECN1","HMGB1P49"],["MAPK1","VCP"],["VPS25","TBC1D25"],["MLST8","LAMTOR2"],["PINK1","TOMM7"],["PINK1","TOMM20"],["TOMM7","TOMM20"],["ATF6","MBTPS1"],["EXOC7","EXOC4"],["ATP6V1G1","TCIRG1"],["CAPN1","PTPN1"],["CAPN1","CAPNS1"]];

const svg=d3.select("#c");
const BLUE="#1010cc",RED="#e81c1c",NODE="#1e7cdc";
const color=d3.scaleLinear().domain([-60,0,60]).range(["#00008b","#ffffff","#b01818"]).clamp(true);
const legendColor=v=>color(v*100);

function txt(g,x,y,s,o={}){
  const t=g.append("text").attr("transform",`translate(${x},${y})`+(o.rot?` rotate(${o.rot})`:"")+(o.sx?` scale(${o.sx},1)`:""))
   .attr("font-size",o.size||12).attr("font-weight",o.weight||"bold").attr("font-style",o.style||"normal")
   .attr("text-anchor",o.anchor||"start").attr("fill",o.fill||"#000").text(s);
  if(o.family)t.attr("style",`font-family:${o.family}`);
  if(o.len)t.attr("textLength",o.len).attr("lengthAdjust","spacingAndGlyphs");
  return t;
}

function heat(p){
  const g=svg.append("g");
  const x=d3.scaleBand().domain(d3.range(p.cols.length)).range(p.xr);
  const y=d3.scaleBand().domain(d3.range(p.rows.length)).range(p.yr);
  p.values.forEach((r,i)=>g.append("g").selectAll("rect").data(r).join("rect")
    .attr("x",(d,j)=>x(j)).attr("y",y(i)).attr("width",x.bandwidth()).attr("height",y.bandwidth())
    .attr("fill",d=>color(d)).attr("stroke","#c9c9c9").attr("stroke-width",1.2));
  const star=d3.symbol(d3.symbolStar,p.starSize)();
  p.stars.forEach(([r,c,n])=>{
    d3.range(n).forEach(k=>g.append("path").attr("d",star).attr("fill","#050520")
      .attr("transform",`translate(${x(c)+x.bandwidth()/2+(k-(n-1)/2)*p.starGap},${y(r)+y.bandwidth()/2})`));
  });
  p.rows.forEach((s,i)=>txt(g,p.xr[1]+p.rowGap,y(i)+y.bandwidth()/2+3.7,s,{size:12,sx:.81}));
  p.cols.forEach((s,j)=>txt(g,x(j)+x.bandwidth()/2+p.colDx,p.yr[1]+p.colDy,s,{size:p.colSize,style:"italic",weight:p.colWeight,anchor:"end",rot:p.colRot}));
  const h=d3.scaleLinear().domain([0,100]).range([0,100]);
  const draw=(n,pos,path)=>{
    if(typeof n==="number")return {p:pos(n),h:0};
    const a=draw(n[1],pos,path),b=draw(n[2],pos,path),H=n[0];
    path.push([a,b,H]);
    return {p:(a.p+b.p)/2,h:H};
  };
  const rowPath=[];draw(p.treeRow,i=>y(i)+y.bandwidth()/2,rowPath);
  const colPath=[];draw(p.treeCol,j=>x(j)+x.bandwidth()/2,colPath);
  const X0=p.xr[0],Y0=p.yr[0];
  const dr=d3.path();
  rowPath.forEach(([a,b,H])=>{dr.moveTo(X0-h(a.h),a.p);dr.lineTo(X0-h(H),a.p);dr.lineTo(X0-h(H),b.p);dr.lineTo(X0-h(b.h),b.p);});
  colPath.forEach(([a,b,H])=>{dr.moveTo(a.p,Y0-h(a.h));dr.lineTo(a.p,Y0-h(H));dr.lineTo(b.p,Y0-h(H));dr.lineTo(b.p,Y0-h(b.h));});
  g.append("path").attr("d",dr.toString()).attr("fill","none").attr("stroke","#000").attr("stroke-width",1.5);
  const cb=d3.scaleLinear().domain([-.6,.6]).range(p.cbTicks);
  const n=120,[bt,bb]=p.cbY;
  const grad=d3.range(n).map(i=>bt+(bb-bt)*i/n);
  g.append("g").selectAll("rect").data(grad).join("rect").attr("x",p.cbX[0]).attr("y",d=>d).attr("width",p.cbX[1]-p.cbX[0]).attr("height",(bb-bt)/n+.6)
   .attr("fill",d=>legendColor(cb.invert(d)));
  const ax=d3.axisRight(cb).tickValues(colorTicks).tickSize(4).tickPadding(4).tickFormat(d=>d===0?"0":d3.format(".1f")(d));
  const ag=g.append("g").attr("transform",`translate(${p.cbX[1]},0)`).call(ax);
  ag.select(".domain").remove();
  ag.selectAll("line").attr("stroke","#333");
  ag.selectAll("text").attr("font-size",17).attr("font-weight","bold").attr("fill","#111").attr("style",'font-family:"Liberation Serif"');
}

heat({cols:colsA,rows:rowsA,values:valuesA,stars:starsA,treeRow:treeRowA,treeCol:treeColA,xr:[191,527.5],yr:[113,676],rowGap:12.5,colDx:6,colDy:11,colSize:16,colWeight:"bold",colRot:-57,starSize:15,starGap:8,cbX:[646,670],cbY:[339,463],cbTicks:[454,348]});
heat({cols:colsD,rows:rowsD,values:valuesD,stars:starsD,treeRow:treeRowD,treeCol:treeColD,xr:[194,531],yr:[875,1437],rowGap:12.5,colDx:2.5,colDy:5,colSize:6.2,colWeight:"normal",colRot:-55,starSize:13,starGap:6,cbX:[643,668],cbY:[971,1095],cbTicks:[1095,971]});

function net(p){
  const g=svg.append("g");
  const sx=d3.scaleLinear().domain([0,1568]).range(p.xr);
  const sy=d3.scaleLinear().domain(p.yd).range(p.yr);
  const sr=d3.scaleLinear().domain([0,1568]).range([0,p.xr[1]-p.xr[0]]);
  const nodes=p.table.map(d=>({name:d[0],lx:sx(d[1]),ly:sy(d[2]),x:sx(d[3]),y:sy(d[4]),r:sr(d[5])}));
  const byName=new Map(nodes.map(n=>[n.name,n]));
  const shown=nodes.filter(n=>n.r>0);
  const links=[];
  (p.edges||[]).forEach(([a,b,m])=>{
    const A=byName.get(a),B=byName.get(b),c=m||1,dx=B.x-A.x,dy=B.y-A.y,L=Math.hypot(dx,dy);
    d3.range(c).forEach(k=>{const o=(k-(c-1)/2)*3;links.push({x1:A.x-dy/L*o,y1:A.y+dx/L*o,x2:B.x-dy/L*o,y2:B.y+dx/L*o});});
  });
  if(p.linkReach){
    // The hairball edges cannot be read one by one from the picture: node size stands for degree,
    // so a pair is linked when closer than linkReach times the sum of the two node sizes.
    shown.forEach((a,i)=>shown.slice(i+1).forEach(b=>{
      if(Math.hypot(a.x-b.x,a.y-b.y)<p.linkReach*(a.r+b.r))links.push({x1:a.x,y1:a.y,x2:b.x,y2:b.y});
    }));
  }
  g.append("g").selectAll("line").data(links).join("line")
   .attr("x1",d=>d.x1).attr("y1",d=>d.y1).attr("x2",d=>d.x2).attr("y2",d=>d.y2)
   .attr("stroke",p.edgeColor).attr("stroke-width",p.edgeWidth).attr("stroke-dasharray",p.dash||null);
  const tri=new Set(p.tri||[]);
  g.append("g").selectAll("circle").data(shown.filter(n=>!tri.has(n.name))).join("circle")
   .attr("cx",d=>d.x).attr("cy",d=>d.y).attr("r",d=>d.r).attr("fill",NODE);
  g.append("g").selectAll("path").data(shown.filter(n=>tri.has(n.name))).join("path")
   .attr("d",d=>d3.symbol(d3.symbolTriangle,.433*Math.pow(2*d.r,2))()).attr("transform",d=>`translate(${d.x},${d.y})`).attr("fill",NODE);
  const red=new Set(p.red);
  g.append("g").selectAll("text").data(nodes.filter(n=>n.name)).join("text")
   .attr("x",d=>d.lx).attr("y",d=>d.ly+p.size*.34).attr("text-anchor","middle").attr("font-size",p.size).attr("font-weight","bold")
   .attr("fill",d=>red.has(d.name)?RED:BLUE).text(d=>d.name);
}
net({table:netB,red:redB,xr:[790,1470],yd:[0,1440],yr:[170,650],linkReach:5.2,edgeColor:"#8a8a8a",edgeWidth:2,dash:"13 9",size:15.5});
net({table:netC,red:redC,tri:triC,edges:edgesC,xr:[1480,2033],yd:[0,1440],yr:[170,650],edgeColor:"#707070",edgeWidth:1.5,size:14.2});
net({table:netE,red:redE,xr:[790,1470],yd:[0,1568],yr:[830,1450],linkReach:6.2,edgeColor:"#8a8a8a",edgeWidth:2.5,dash:"18 3",size:15.6});
net({table:netF,red:redF,tri:triF,edges:edgesF,xr:[1480,2033],yd:[0,1320],yr:[900,1340],edgeColor:"#707070",edgeWidth:1.5,size:14.6});

[["A",96,37],["B",804,37],["C",1511,37],["D",98,794],["E",804,794],["F",1511,794]].forEach(([s,x,y])=>txt(svg,x,y,s,{size:32,family:'"Liberation Sans"'}));
txt(svg,194,49,"15 genes significantly correlated with bacteria",{size:22,len:448});
txt(svg,201,810,"31 genes significantly correlated with bacteria",{size:22,len:450});
txt(svg,38,395.5,"Cluster 6",{size:42,rot:-90,anchor:"middle",len:173});
txt(svg,38,1110,"Cluster 7",{size:42,rot:-90,anchor:"middle",len:168});
[[92,742],[808,1458]].forEach(([a,b])=>svg.append("line").attr("x1",72.5).attr("x2",72.5).attr("y1",a).attr("y2",b).attr("stroke","#000").attr("stroke-width",3));
svg.append("rect").attr("x",1236).attr("y",662).attr("width",383).attr("height",58).attr("fill","none").attr("stroke","#999").attr("stroke-width",1);
txt(svg,1240,685,"Genes in blue are related to autophagy.",{size:21,fill:"#1010cc",len:380});
txt(svg,1240,713,"Genes in red  are related to ER stress.",{size:21,fill:"#e81c1c",len:367}).style("white-space","pre");
</script></body></html>
